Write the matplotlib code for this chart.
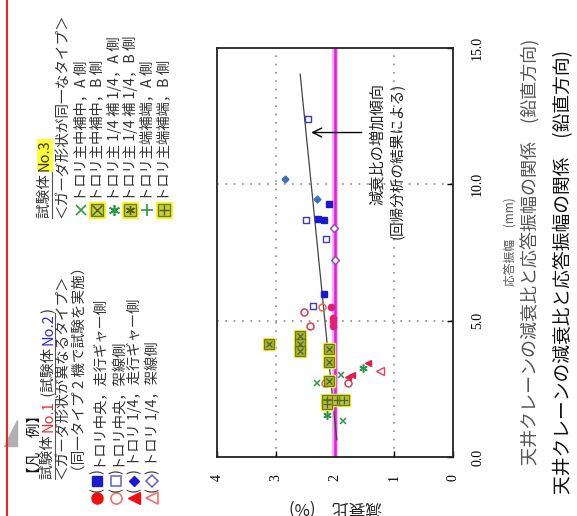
import matplotlib
matplotlib.use('Agg')
import matplotlib.pyplot as plt

plt.rcParams['font.family'] = ['Noto Sans CJK JP', 'DejaVu Sans']

W, H = 577, 516

# ---------------- data (x = damping ratio %, y = response amplitude mm) -------------
# 試験体 No.1 (red)
n1_fill_circle_damp = [2.06, 2.03, 2.03, 2.04]
n1_fill_circle_amp = [5.50, 5.10, 4.97, 4.82]
n1_open_circle_damp = [2.52, 2.42, 1.78]
n1_open_circle_amp = [5.31, 4.82, 2.71]
n1_open_circle_or_damp = [2.22, 2.17]
n1_open_circle_or_amp = [5.50, 2.72]
n1_fill_tri_damp = [1.44, 1.72, 1.78]
n1_fill_tri_amp = [3.44, 3.01, 2.95]
n1_open_tri_damp = [1.24]
n1_open_tri_amp = [3.17]
# 試験体 No.2 (blue)
n2_fill_sq_damp = [2.10, 2.28, 2.18, 2.18]
n2_fill_sq_amp = [9.29, 8.74, 8.68, 5.99]
n2_open_sq_damp = [2.46, 2.50, 2.16, 2.38]
n2_open_sq_amp = [12.41, 8.69, 8.01, 5.53]
n2_fill_dia_damp = [2.85, 2.31]
n2_fill_dia_amp = [10.18, 9.47]
n2_open_dia_damp = [2.02, 2.00]
n2_open_dia_amp = [8.41, 7.24]
# 試験体 No.3 (green / yellow)
n3_x_damp = [2.31, 1.87, 1.89]
n3_x_amp = [2.73, 1.33, 3.01]
n3_boxx_damp = [3.12, 2.59, 2.59, 2.59, 2.11, 2.11, 2.10]
n3_boxx_amp = [4.14, 4.42, 4.14, 3.87, 3.96, 3.47, 2.77]
n3_ast_damp = [1.52, 2.14]
n3_ast_amp = [3.26, 1.54]
n3_boxplus_damp = [2.13, 2.13, 1.97, 1.85]
n3_boxplus_amp = [2.10, 1.95, 2.10, 2.10]

# regression line and reference
reg_damp = [1.97, 2.59]
reg_amp = [0.63, 14.04]
ref_damp = 2.0

damp_ticks = [0, 1, 2, 3, 4]
damp_labels = ['0', '1', '2', '3', '4']
amp_ticks = [0, 5, 10, 15]
amp_labels = ['0.0', '5.0', '10.0', '15.0']

arrow_from = (1.5, 11.9)
arrow_to = (2.45, 11.9)

caption = '天井クレーンの減衰比と応答振幅の関係　(鉛直方向)'

# ---------------- figure ----------------
fig = plt.figure(figsize=(W / 100, H / 100), dpi=100)
fig.patch.set_facecolor('white')

ov = fig.add_axes([0, 0, 1, 1])
ov.set_xlim(0, W)
ov.set_ylim(H, 0)
ov.axis('off')

ax = fig.add_axes([217 / W, (H - 457) / H, (453 - 217) / W, (457 - 48) / H])
ax.set_xlim(4, 0)
ax.set_ylim(0, 15)

# grid
for d in [1, 3]:
    ax.axvline(d, color='#8a8a8a', ls=(0, (1, 4)), lw=1.2, zorder=1)
for a in [5, 10]:
    ax.axhline(a, color='#8a8a8a', ls=(0, (1, 4)), lw=1.2, zorder=1)

# reference magenta line
ax.axvline(ref_damp, color='#f3a0f3', lw=4, zorder=2)
ax.axvline(ref_damp, color='#dd22dd', lw=1.8, zorder=2)

# regression line
ax.plot(reg_damp, reg_amp, color='#444444', lw=0.9, zorder=3)

# No.1
ax.plot(n1_fill_circle_damp, n1_fill_circle_amp, 'o', ms=4.5, color='#e2207a', zorder=5)
ax.plot(n1_open_circle_damp, n1_open_circle_amp, 'o', ms=5, mfc='white', mec='#d83a5a', mew=1.1, zorder=5)
ax.plot(n1_open_circle_or_damp, n1_open_circle_or_amp, 'o', ms=5, mfc='none', mec='#d8704a', mew=1.1, zorder=5)
ax.plot(n1_fill_tri_damp, n1_fill_tri_amp, '<', ms=5, color='#e0204a', zorder=5)
ax.plot(n1_open_tri_damp, n1_open_tri_amp, '<', ms=5.5, mfc='white', mec='#e0405a', mew=1.0, zorder=5)
# No.2
ax.plot(n2_fill_sq_damp, n2_fill_sq_amp, 's', ms=4.5, color='#1a1ad0', zorder=5)
ax.plot(n2_open_sq_damp, n2_open_sq_amp, 's', ms=5, mfc='white', mec='#3838c0', mew=1.0, zorder=5)
ax.plot(n2_fill_dia_damp, n2_fill_dia_amp, 'D', ms=3.5, color='#3a6ec8', zorder=5)
ax.plot(n2_open_dia_damp, n2_open_dia_amp, 'D', ms=4, mfc='white', mec='#9040c0', mew=1.0, zorder=5)
# No.3
ax.plot(n3_boxx_damp, n3_boxx_amp, 's', ms=9, color='#f2f23a', zorder=4)
ax.plot(n3_boxx_damp, n3_boxx_amp, 's', ms=6.5, mfc='#a8b43c', mec='#6d7a1a', mew=0.9, zorder=5)
ax.plot(n3_boxx_damp, n3_boxx_amp, 'x', ms=5, color='#55661a', mew=0.9, zorder=6)
ax.plot(n3_boxplus_damp, n3_boxplus_amp, 's', ms=9, color='#f2f23a', zorder=4)
ax.plot(n3_boxplus_damp, n3_boxplus_amp, 's', ms=6.5, mfc='#b8c040', mec='#6d7a1a', mew=0.9, zorder=5)
ax.plot(n3_boxplus_damp, n3_boxplus_amp, '+', ms=5.5, color='#55661a', mew=0.9, zorder=6)
ax.plot(n3_x_damp, n3_x_amp, 'x', ms=5, color='#2a9a48', mew=1.1, zorder=6)
ax.plot(n3_ast_damp, n3_ast_amp, marker=(6, 2, 0), ls='none', ms=6, color='#2a9a48', mew=1.1, zorder=6)

# arrow + annotation
ax.annotate('', xy=arrow_to, xytext=arrow_from,
            arrowprops=dict(arrowstyle='->', color='black', lw=1.0, mutation_scale=16), zorder=7)
ax.text(1.29, 13.72, '減衰比の増加傾向', rotation=90, ha='center', va='top', fontsize=11, color='#222')
ax.text(0.94, 13.72, '(回帰分析の結果による)', rotation=90, ha='center', va='top', fontsize=10.5, color='#222')

# ticks
ax.set_xticks(damp_ticks)
ax.set_xticklabels(damp_labels, rotation=90, fontfamily='Liberation Serif', fontsize=10)
ax.set_yticks(amp_ticks)
ax.set_yticklabels(amp_labels, rotation=90, va='center', fontfamily='Liberation Serif', fontsize=10)
ax.xaxis.set_ticks_position('bottom')
ax.yaxis.set_ticks_position('right')
ax.tick_params(axis='x', direction='in', length=4, width=1, pad=12)
ax.tick_params(axis='y', direction='in', length=4, width=1, pad=13)
for s in ax.spines.values():
    s.set_linewidth(1.3)
    s.set_color('#222')

# axis labels
ov.text(335, 507, '減衰比　(%)', rotation=180, ha='center', va='center', fontsize=12, color='#222')
ov.text(510, 242, '応答振幅　(mm)', rotation=90, ha='center', va='center', fontsize=8.5, color='#555')

# captions
ov.text(531, 465, caption, rotation=90, ha='center', va='bottom', fontsize=13, color='#555')
ov.text(564, 494, caption, rotation=90, ha='center', va='bottom', fontsize=13.5, color='#111')

# page decorations
ov.plot([7, 7], [0, H], color='#ee2222', lw=1.5)
ov.add_patch(plt.Polygon([[4, 446], [17, 446], [17, 420]], closed=True, color='#b0b0b0'))

renderer = fig.canvas.get_renderer()


def vtext(x, y, pieces, size):
    """Vertical (rotated) text made of coloured pieces, reading upwards from y."""
    spans = []
    for s, c, kw in pieces:
        t = ov.text(x, y, s, rotation=90, ha='center', va='bottom', fontsize=size, color=c, **kw)
        bb = t.get_window_extent(renderer)
        spans.append((y, y - bb.height))
        y -= bb.height
    return spans


TXT = '#333333'
LS = 10.5
RS = 10.3

# ---- legend group 1 (No.1 / No.2) ----
vtext(35, 481, [('【凡　例】', '#111', {})], LS)
sp = vtext(48, 479, [('試験体 ', TXT, {}), ('No.1', '#e03030', {}), (' (試験体 ', TXT, {}),
                     ('No.2', '#2a2ac8', {}), (')', TXT, {})], LS)
ov.plot([55, 55], [sp[0][0], sp[1][1]], color='#555', lw=0.8)
ov.plot([55, 55], [sp[2][0] - 6, sp[3][1]], color='#555', lw=0.8)
vtext(63, 479, [('＜ガーダ形状が異なるタイプ＞', TXT, {})], LS)
vtext(80, 479, [('（同一タイプ 2 機で試験を実施）', TXT, {})], LS)

rows1 = [
    (97, dict(marker='o', ms=8, color='#ee1111'), dict(marker='s', ms=6.5, color='#1a1ad0'),
     'トロリ中央，走行ギャー側'),
    (116, dict(marker='o', ms=8, mfc='white', mec='#f07070', mew=1.2),
     dict(marker='s', ms=6.5, mfc='white', mec='#6060d0', mew=1.1), 'トロリ中央，架線側'),
    (134, dict(marker='<', ms=8, color='#ee1111'), dict(marker='D', ms=5.5, color='#1a1ad0'),
     'トロリ 1/4，走行ギャー側'),
    (152, dict(marker='<', ms=8.5, mfc='white', mec='#f07070', mew=1.2),
     dict(marker='D', ms=6, mfc='white', mec='#6060d0', mew=1.1), 'トロリ 1/4，架線側'),
]
for x, m1, m2, lab in rows1:
    ov.plot([x], [498], ls='none', **m1)
    ov.text(x, 490, '(', rotation=90, ha='center', va='center', fontsize=LS, color=TXT)
    ov.plot([x], [481], ls='none', **m2)
    ov.text(x, 472, ')', rotation=90, ha='center', va='center', fontsize=LS, color=TXT)
    vtext(x, 466, [(lab, TXT, {})], RS)

# ---- legend group 2 (No.3) ----
sp = vtext(45, 218, [('試験体 ', TXT, {}),
                     ('No.3', '#333', {'bbox': dict(fc='#ffff33', ec='none', pad=0.5)})], LS)
ov.plot([52, 52], [sp[0][0], sp[1][1]], color='#555', lw=0.8)
vtext(63, 218, [('＜ガーダ形状が同一なタイプ＞', TXT, {})], LS)

GREEN = '#2a9a48'
rows3 = [
    (81, 'x', 'トロリ主中補中，A 側'),
    (97, 'boxx', 'トロリ主中補中，B 側'),
    (114, 'ast', 'トロリ主 1/4 補 1/4，A 側'),
    (130, 'boxast', 'トロリ主 1/4 補 1/4，B 側'),
    (147, 'plus', 'トロリ主端補端，A 側'),
    (164, 'boxplus', 'トロリ主端補端，B 側'),
]
for x, kind, lab in rows3:
    y = 210
    if kind == 'x':
        ov.plot([x], [y], 'x', ms=7, color=GREEN, mew=1.2)
    elif kind == 'ast':
        ov.plot([x], [y], marker=(6, 2, 0), ls='none', ms=8, color=GREEN, mew=1.2)
    elif kind == 'plus':
        ov.plot([x], [y], '+', ms=9, color=GREEN, mew=1.2)
    else:
        ov.plot([x], [y], 's', ms=12, color='#f6f62e')
        ov.plot([x], [y], 's', ms=8.5, mfc='#c8d040', mec='#6d7a1a', mew=1)
        inner = {'boxx': 'x', 'boxplus': '+', 'boxast': (6, 2, 0)}[kind]
        ov.plot([x], [y], marker=inner, ls='none', ms=6.5, color='#4d5e12', mew=1)
    vtext(x, 201, [(lab, TXT, {})], RS)

fig.savefig('out.png', dpi=100, facecolor='white')
